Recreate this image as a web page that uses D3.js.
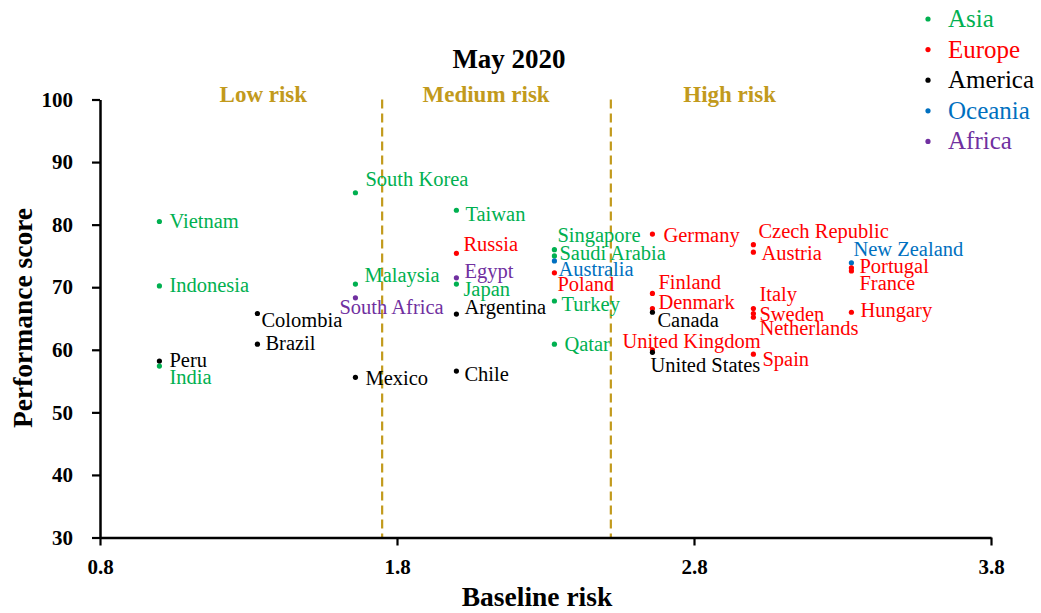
<!DOCTYPE html>
<html><head><meta charset="utf-8">
<script src="https://cdn.jsdelivr.net/npm/d3@7"></script>
<style>body{margin:0;background:#fff}svg{display:block}text{font-family:"Liberation Serif","Times New Roman",serif}</style>
</head><body>
<script>
const regions = ["Asia","Europe","America","Oceania","Africa"];
const regionColors = ["#00B050","#FF0000","#000000","#0070C0","#7030A0"];
const countries = ["Vietnam","Indonesia","Peru","India","Colombia","Brazil","South Korea","Malaysia","South Africa","Mexico",
  "Taiwan","Russia","Egypt","Japan","Argentina","Chile","Singapore","Saudi Arabia","Australia","Poland","Turkey","Qatar",
  "Germany","Finland","Denmark","Canada","United Kingdom","United States","Czech Republic","Austria","Italy","Sweden","Netherlands","Spain",
  "New Zealand","Portugal","France","Hungary"];
const countryRegion = ["Asia","Asia","America","Asia","America","America","Asia","Asia","Africa","America",
  "Asia","Europe","Africa","Asia","America","America","Asia","Asia","Oceania","Europe","Asia","Asia",
  "Europe","Europe","Europe","America","Europe","America","Europe","Europe","Europe","Europe","Europe","Europe",
  "Oceania","Europe","Europe","Europe"];
const baselineRisk = [1.0,1.0,1.0,1.0,1.33,1.33,1.66,1.66,1.66,1.66,
  2.0,2.0,2.0,2.0,2.0,2.0,2.33,2.33,2.33,2.33,2.33,2.33,
  2.66,2.66,2.66,2.66,2.66,2.66,3.0,3.0,3.0,3.0,3.0,3.0,
  3.33,3.33,3.33,3.33];
const performanceScore = [80.5,70.2,58.2,57.4,65.8,60.9,85.1,70.5,68.3,55.6,
  82.3,75.4,71.5,70.5,65.7,56.6,76.0,75.0,74.2,72.3,67.8,60.9,
  78.5,69.0,66.6,66.0,60.0,59.6,76.8,75.6,66.6,65.8,65.2,59.3,
  73.9,73.1,72.6,66.0];
const xTicks = [0.8,1.8,2.8,3.8];
const yTicks = [30,40,50,60,70,80,90,100];
const riskThresholds = [1.75,2.52];
const riskZones = ["Low risk","Medium risk","High risk"];
const riskZoneCenters = [1.35,2.1,2.92];

// label placement (pixels relative to dot)
const labelOffsets = {
  "Vietnam":[10,6],"Indonesia":[10,6],"Peru":[10,6],"India":[10,18],"Colombia":[4,14],"Brazil":[8,6],
  "South Korea":[10,-7],"Malaysia":[9,-2],"South Africa":[-16,16],"Mexico":[10,8],
  "Taiwan":[9,11],"Russia":[7,-2],"Egypt":[8,0],"Japan":[7,12],"Argentina":[8,0],"Chile":[8,10],
  "Singapore":[3,-8],"Saudi Arabia":[5,4],"Australia":[4,15],"Poland":[3,18],"Turkey":[7,10],"Qatar":[10,7],
  "Germany":[11,8],"Finland":[6,-4],"Denmark":[6,1],"Canada":[5,15],"United Kingdom":[-30,-2],"United States":[-2,20],
  "Czech Republic":[5,-7],"Austria":[8,8],"Italy":[6,-7],"Sweden":[6,8],"Netherlands":[6,18],"Spain":[9,12],
  "New Zealand":[2,-7],"Portugal":[8,5],"France":[8,19],"Hungary":[9,5]
};

const W = 1041, H = 613;
const svg = d3.select("body").append("svg").attr("width",W).attr("height",H);
const x = d3.scaleLinear().domain([0.8,3.8]).range([100,991]);
const y = d3.scaleLinear().domain([30,100]).range([537.5,99.5]);
const color = d3.scaleOrdinal().domain(regions).range(regionColors);
const gold = "#C29A1C";

// threshold lines
svg.selectAll("line.thr").data(riskThresholds).enter().append("line")
  .attr("x1",d=>x(d)).attr("x2",d=>x(d)).attr("y1",y(100)).attr("y2",y(30))
  .attr("stroke",gold).attr("stroke-width",2.2).attr("stroke-dasharray","9,5");
svg.selectAll("text.zone").data(riskZones).enter().append("text")
  .attr("x",(d,i)=>x(riskZoneCenters[i])).attr("y",102).attr("text-anchor","middle")
  .attr("font-size",23).attr("font-weight","bold").attr("fill",gold).text(d=>d);

// axes
const xAxis = svg.append("g").attr("transform",`translate(0,${y(30)})`)
  .call(d3.axisBottom(x).tickValues(xTicks).tickFormat(d3.format(".1f")).tickSize(8).tickSizeOuter(0));
const yAxis = svg.append("g").attr("transform",`translate(${x(0.8)},0)`)
  .call(d3.axisLeft(y).tickValues(yTicks).tickSize(8).tickSizeOuter(0));
[xAxis,yAxis].forEach(g=>{
  g.select(".domain").attr("stroke","#000").attr("stroke-width",2.5);
  g.selectAll(".tick line").attr("stroke","#000").attr("stroke-width",2.2);
  g.selectAll(".tick text").attr("font-family","Liberation Serif, serif").attr("font-size",21).attr("font-weight","bold").attr("fill","#000");
});
xAxis.selectAll(".tick text").attr("y",36).attr("dy",0);
yAxis.selectAll(".tick text").attr("x",-27);

svg.append("text").attr("x",537).attr("y",606).attr("text-anchor","middle")
  .attr("font-size",27.5).attr("font-weight","bold").text("Baseline risk");
svg.append("text").attr("transform","translate(32,318) rotate(-90)").attr("text-anchor","middle")
  .attr("font-size",27.5).attr("font-weight","bold").text("Performance score");
svg.append("text").attr("x",509).attr("y",68).attr("text-anchor","middle")
  .attr("font-size",27).attr("font-weight","bold").text("May 2020");

// points
const data = countries.map((c,i)=>({name:c,region:countryRegion[i],x:baselineRisk[i],y:performanceScore[i]}));
svg.selectAll("circle.pt").data(data).enter().append("circle")
  .attr("cx",d=>x(d.x)).attr("cy",d=>y(d.y)).attr("r",2.6).attr("fill",d=>color(d.region));
svg.selectAll("text.lbl").data(data).enter().append("text")
  .attr("x",d=>x(d.x)+labelOffsets[d.name][0]).attr("y",d=>y(d.y)+labelOffsets[d.name][1])
  .attr("font-size",20.5).attr("fill",d=>color(d.region)).text(d=>d.name);

// legend
const lg = svg.append("g");
regions.forEach((r,i)=>{
  lg.append("circle").attr("cx",928).attr("cy",19+i*30.6).attr("r",2.6).attr("fill",regionColors[i]);
  lg.append("text").attr("x",948).attr("y",27+i*30.6).attr("font-size",25).attr("fill",regionColors[i]).text(r);
});
</script>
</body></html>
